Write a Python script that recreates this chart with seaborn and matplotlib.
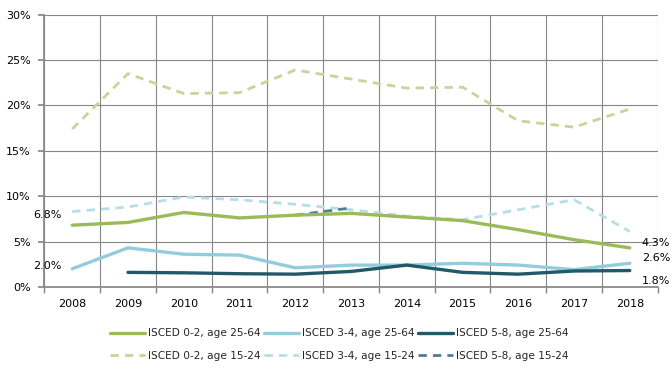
import matplotlib
matplotlib.use("Agg")
import matplotlib.pyplot as plt
import seaborn as sns
import pandas as pd
import numpy as np

sns.set_theme(style="white")
plt.rcParams['font.family'] = ['DejaVu Sans']

# data (percent)
years = [2008, 2009, 2010, 2011, 2012, 2013, 2014, 2015, 2016, 2017, 2018]
isced02_2564 = [6.8, 7.1, 8.2, 7.6, 7.9, 8.1, 7.7, 7.3, 6.3, 5.2, 4.3]
isced34_2564 = [2.0, 4.3, 3.6, 3.5, 2.1, 2.4, 2.4, 2.6, 2.4, 1.9, 2.6]
isced58_2564 = [np.nan, 1.6, 1.55, 1.45, 1.4, 1.7, 2.4, 1.6, 1.4, 1.75, 1.8]
isced02_1524 = [17.4, 23.5, 21.3, 21.4, 23.9, 22.9, 21.9, 22.0, 18.3, 17.6, 19.6]
isced34_1524 = [8.3, 8.8, 9.9, 9.6, 9.1, 8.5, 7.8, 7.4, 8.5, 9.6, 6.1]
isced58_1524 = [np.nan, np.nan, np.nan, np.nan, 7.9, 8.7, np.nan, np.nan, np.nan, np.nan, np.nan]

series = [
    ('ISCED 0-2, age 25-64', isced02_2564, '#9BBB59', None),
    ('ISCED 0-2, age 15-24', isced02_1524, '#C3D69B', (3, 2.2)),
    ('ISCED 3-4, age 25-64', isced34_2564, '#93CDDD', None),
    ('ISCED 3-4, age 15-24', isced34_1524, '#B7DEE8', (3, 2.2)),
    ('ISCED 5-8, age 25-64', isced58_2564, '#215968', None),
    ('ISCED 5-8, age 15-24', isced58_1524, '#4F7F8C', (3, 2.2)),
]

fig = plt.figure(figsize=(6.72, 3.75), dpi=100)
ax = fig.add_axes([0.066, 0.235, 0.9127, 0.726])

# draw dashed (young) series first, then the solid ones on top
order = [1, 3, 5, 0, 2, 4]
for i in order:
    name, vals, col, dash = series[i]
    df = pd.DataFrame({'year': years, 'value': vals}).dropna()
    sns.lineplot(ax=ax, data=df, x='year', y='value', color=col,
                 linewidth=2.0 if dash else 2.4, estimator=None,
                 errorbar=None, label=name,
                 dashes=False, linestyle=(0, dash) if dash else '-')

ax.set_xlim(2007.5, 2018.5)
ax.set_ylim(0, 30)
ax.set_xticks(years)
ax.set_xticklabels([str(y) for y in years])
ax.set_xticks(np.arange(2007.5, 2019, 1), minor=True)
ax.set_yticks(range(0, 31, 5))
ax.set_yticklabels([f'{v}%' for v in range(0, 31, 5)])
ax.set(xlabel=None, ylabel=None)

ax.grid(True, axis='y', color='#868686', linewidth=0.8)
ax.grid(True, axis='x', which='minor', color='#868686', linewidth=0.8)
ax.grid(False, axis='x', which='major')
for s in ax.spines.values():
    s.set_visible(False)
ax.spines['left'].set_visible(True)
ax.spines['left'].set_color('#868686')
ax.spines['bottom'].set_visible(True)
ax.spines['bottom'].set_color('#868686')
ax.tick_params(axis='x', which='major', length=0, pad=9, labelsize=8, colors='black')
ax.tick_params(axis='x', which='minor', length=4, color='#868686', direction='out', bottom=True)
ax.tick_params(axis='y', length=4, color='#868686', direction='out', left=True, labelsize=8,
               colors='black', pad=6)
for lab in ax.get_yticklabels() + ax.get_xticklabels():
    lab.set_color('black')
ax.set_axisbelow(True)

# value labels
ann = [
    (2008, isced02_2564[0], '6.8%', -11, 10, 'right'),
    (2008, isced34_2564[0], '2.0%', -11, 3, 'right'),
    (2018, isced02_2564[-1], '4.3%', 12, 5, 'left'),
    (2018, isced34_2564[-1], '2.6%', 12, 5, 'left'),
    (2018, isced58_2564[-1], '1.8%', 12, -10, 'left'),
]
for x, y, t, dx, dy, ha in ann:
    ax.annotate(t, (x, y), xytext=(dx, dy), textcoords='offset pixels',
                ha=ha, va='center', fontsize=8, color='black')

ax.get_legend().remove()
handles, labels = ax.get_legend_handles_labels()
lookup = dict(zip(labels, handles))
names = [s[0] for s in series]
fig.legend([lookup[n] for n in names], names, ncol=3, loc='center',
           bbox_to_anchor=(0.505, 0.081), frameon=False, fontsize=7.6,
           handlelength=3.3, handletextpad=0.3, columnspacing=0.3,
           labelspacing=1.2)

fig.savefig('out.png', dpi=100)
